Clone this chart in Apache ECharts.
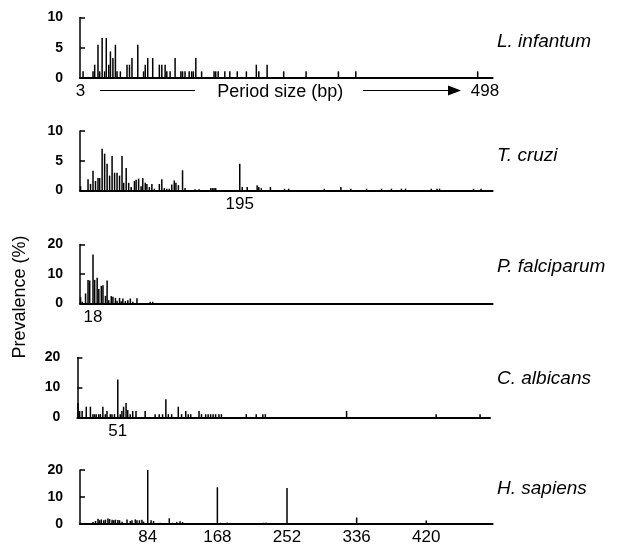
<!DOCTYPE html>
<html>
<head>
<meta charset="utf-8">
<script src="https://cdn.jsdelivr.net/npm/echarts@6/dist/echarts.min.js"></script>
<style>
  html, body { margin: 0; padding: 0; background: #fff; }
  #chart { width: 622px; height: 546px; }
</style>
</head>
<body>
<div id="chart"></div>
<script>
// ---- Data (period size in bp, prevalence in %) ----
const species = ['L. infantum', 'T. cruzi', 'P. falciparum', 'C. albicans', 'H. sapiens'];

const liPeriods = [6,18,20,24,26,29,32,34,37,39,42,45,47,51,59,62,65,72,79,81,84,90,98,101,105,107,111,117,124,126,129,134,137,139,142,149,164,166,169,177,183,192,203,215,218,228,248,275,314,335,482];
const liValues  = [1.1,1.1,2.2,5.5,1.1,6.6,1.1,6.6,2.2,4.4,3.3,5.5,1.1,1.1,2.2,2.2,3.3,5.5,1.1,2.2,3.3,3.3,2.2,2.2,2.2,1.1,1.1,3.3,1.1,1.1,1.1,1.1,1.1,1.1,3.3,1.1,1.1,1.1,1.1,1.1,1.1,1.1,1.1,2.2,1.1,2.2,1.1,1.1,1.1,1.1,1.1];

const tcPeriods = [3,12,15,18,21,24,26,29,32,35,38,41,44,47,50,53,55,58,61,64,68,70,73,76,78,81,83,86,89,92,98,101,104,107,110,113,116,118,121,126,129,141,146,160,162,164,166,195,198,204,216,218,221,232,249,254,297,317,329,348,366,378,390,395,426,433,436,477,486];
const tcValues  = [0.7,1.9,1.1,3.3,1.6,2.1,2.1,7.0,6.2,4.5,2.5,5.8,3.0,3.0,2.5,5.8,1.3,3.8,1.3,0.6,1.6,1.8,2.0,0.7,2.1,1.3,1.1,0.6,1.1,0.3,1.1,1.9,0.4,0.3,0.3,1.0,1.7,1.3,0.9,3.4,0.4,0.2,0.2,0.4,0.4,0.4,0.4,4.5,0.6,0.6,0.9,0.6,0.4,0.6,0.3,0.3,0.3,0.6,0.3,0.3,0.3,0.3,0.3,0.3,0.3,0.3,0.3,0.3,0.3];

const pfPeriods = [3,5,9,12,14,18,20,23,25,28,30,33,35,37,40,42,45,47,50,52,54,57,60,63,66,71,87,90];
const pfValues  = [2.1,0.6,3.4,8.0,7.8,16.6,8.0,8.7,4.9,6.0,6.2,2.6,7.8,1.1,2.5,2.3,1.9,0.9,1.9,0.8,1.7,0.8,1.1,1.7,0.6,1.8,0.6,0.6];

const caPeriods = [3,5,8,13,18,21,23,25,28,30,33,36,38,42,44,47,51,54,56,58,61,63,66,69,73,84,96,101,105,109,112,116,124,128,133,136,139,149,152,157,160,163,166,169,173,176,206,218,226,229,327,435,488];
const caValues  = [4.8,2.2,2.2,3.6,3.6,1.1,1.1,1.1,1.1,1.1,3.6,1.1,2.2,1.1,1.1,1.1,12.7,1.1,2.2,3.6,4.8,2.5,1.1,2.2,2.2,2.2,1.1,1.1,1.1,6.1,1.1,1.1,3.6,1.1,2.2,1.1,1.1,2.2,1.1,1.1,1.1,1.1,1.1,1.1,1.1,1.1,1.1,1.1,1.1,1.1,2.2,1.1,1.1];

const hsPeriods = [4,7,18,21,24,26,28,31,33,36,38,41,43,45,48,50,53,59,63,65,69,71,74,77,79,84,88,91,94,99,110,114,119,123,126,131,141,155,168,172,175,180,224,227,243,252,278,336,420];
const hsValues  = [0.4,0.3,0.7,1.1,1.9,1.4,1.7,1.4,1.6,2.0,1.8,1.6,1.4,1.6,1.5,1.4,0.8,1.7,1.1,1.4,1.7,1.4,1.4,1.6,0.9,20.0,1.4,1.1,0.3,0.45,2.1,0.45,0.7,1.0,0.7,0.3,0.3,0.3,13.6,0.45,0.4,0.5,0.5,0.5,0.3,13.3,0.3,2.4,1.3];

// x tick labels shown under each panel
const liTicks = [3, 498];
const tcTicks = [195];
const pfTicks = [18];
const caTicks = [51];
const hsTicks = [84, 168, 252, 336, 420];

// y-axis ranges
const yMax = [10, 10, 20, 20, 20];
const yStep = [5, 5, 10, 10, 10];

// ---- Layout ----
const FONT = '"Liberation Sans", Arial, Helvetica, sans-serif';
const layout = [
  { left: 80,   top: 17.5,  height: 60.5, labelY: 43 },
  { left: 80,   top: 131,   height: 59.5, labelY: 157 },
  { left: 80,   top: 244.5, height: 59,   labelY: 268 },
  { left: 77.4, top: 357.5, height: 60,   labelY: 380 },
  { left: 80,   top: 470,   height: 59,   labelY: 490 }
];
const periodsAll = [liPeriods, tcPeriods, pfPeriods, caPeriods, hsPeriods];
const valuesAll = [liValues, tcValues, pfValues, caValues, hsValues];
const ticksAll = [liTicks, tcTicks, pfTicks, caTicks, hsTicks];

const grids = [], xAxes = [], yAxes = [], series = [];
layout.forEach((g, i) => {
  grids.push({ left: g.left, top: g.top, width: 412.6, height: g.height, containLabel: false });
  const x = {
    type: 'value', gridIndex: i, min: 2.3, max: 500,
    axisLine: { show: true, onZero: false, lineStyle: { color: '#000', width: 2 } },
    axisTick: { show: false },
    splitLine: { show: false },
    axisLabel: {
      show: true, customValues: ticksAll[i], margin: 5,
      color: '#000', fontSize: 17, fontFamily: FONT,
      formatter: function (v) { return (i === 0 && v === 498) ? '{r|498}' : String(v); },
      rich: { r: { padding: [0, 12, 0, 0], fontSize: 17, fontFamily: FONT, color: '#000' } }
    }
  };
  if (i === 0) {
    x.name = 'Period size (bp)';
    x.nameLocation = 'middle';
    x.nameGap = 5;
    x.nameMoveOverlap = false;
    x.nameTextStyle = { color: '#000', fontSize: 18, fontFamily: FONT, padding: [0, 12, 0, 0] };
  }
  xAxes.push(x);
  yAxes.push({
    type: 'value', gridIndex: i, min: 0, max: yMax[i], interval: yStep[i],
    axisLine: { show: true, lineStyle: { color: '#000', width: 1.5 } },
    axisTick: { show: true, inside: true, length: 5, lineStyle: { color: '#000', width: 1.5 } },
    splitLine: { show: false },
    axisLabel: { margin: 17, color: '#000', fontSize: 14, fontWeight: 'bold', fontFamily: FONT }
  });
  series.push({
    type: 'bar', xAxisIndex: i, yAxisIndex: i,
    barWidth: 1.5,
    itemStyle: { color: '#000' },
    data: periodsAll[i].map((p, k) => [p, valuesAll[i][k]])
  });
});

const graphics = layout.map((g, i) => ({
  type: 'text', left: 497, top: g.labelY - 11,
  style: { text: species[i], font: 'italic 19px ' + FONT, fill: '#000' }
}));
graphics.push({
  type: 'text', x: 20, y: 297, rotation: Math.PI / 2,
  style: { text: 'Prevalence (%)', font: '18px ' + FONT, fill: '#000', align: 'center', verticalAlign: 'middle' }
});
graphics.push({ type: 'line', shape: { x1: 100, y1: 90.5, x2: 195, y2: 90.5 }, style: { stroke: '#000', lineWidth: 1.2 } });
graphics.push({ type: 'line', shape: { x1: 363, y1: 90.5, x2: 450, y2: 90.5 }, style: { stroke: '#000', lineWidth: 1.2 } });
graphics.push({ type: 'polygon', shape: { points: [[448, 85.5], [461, 90.5], [448, 95.5]] }, style: { fill: '#000' } });

const chart = echarts.init(document.getElementById('chart'), null, { renderer: 'canvas' });
chart.setOption({
  animation: false,
  backgroundColor: '#fff',
  grid: grids,
  xAxis: xAxes,
  yAxis: yAxes,
  series: series,
  graphic: graphics
});
</script>
</body>
</html>
